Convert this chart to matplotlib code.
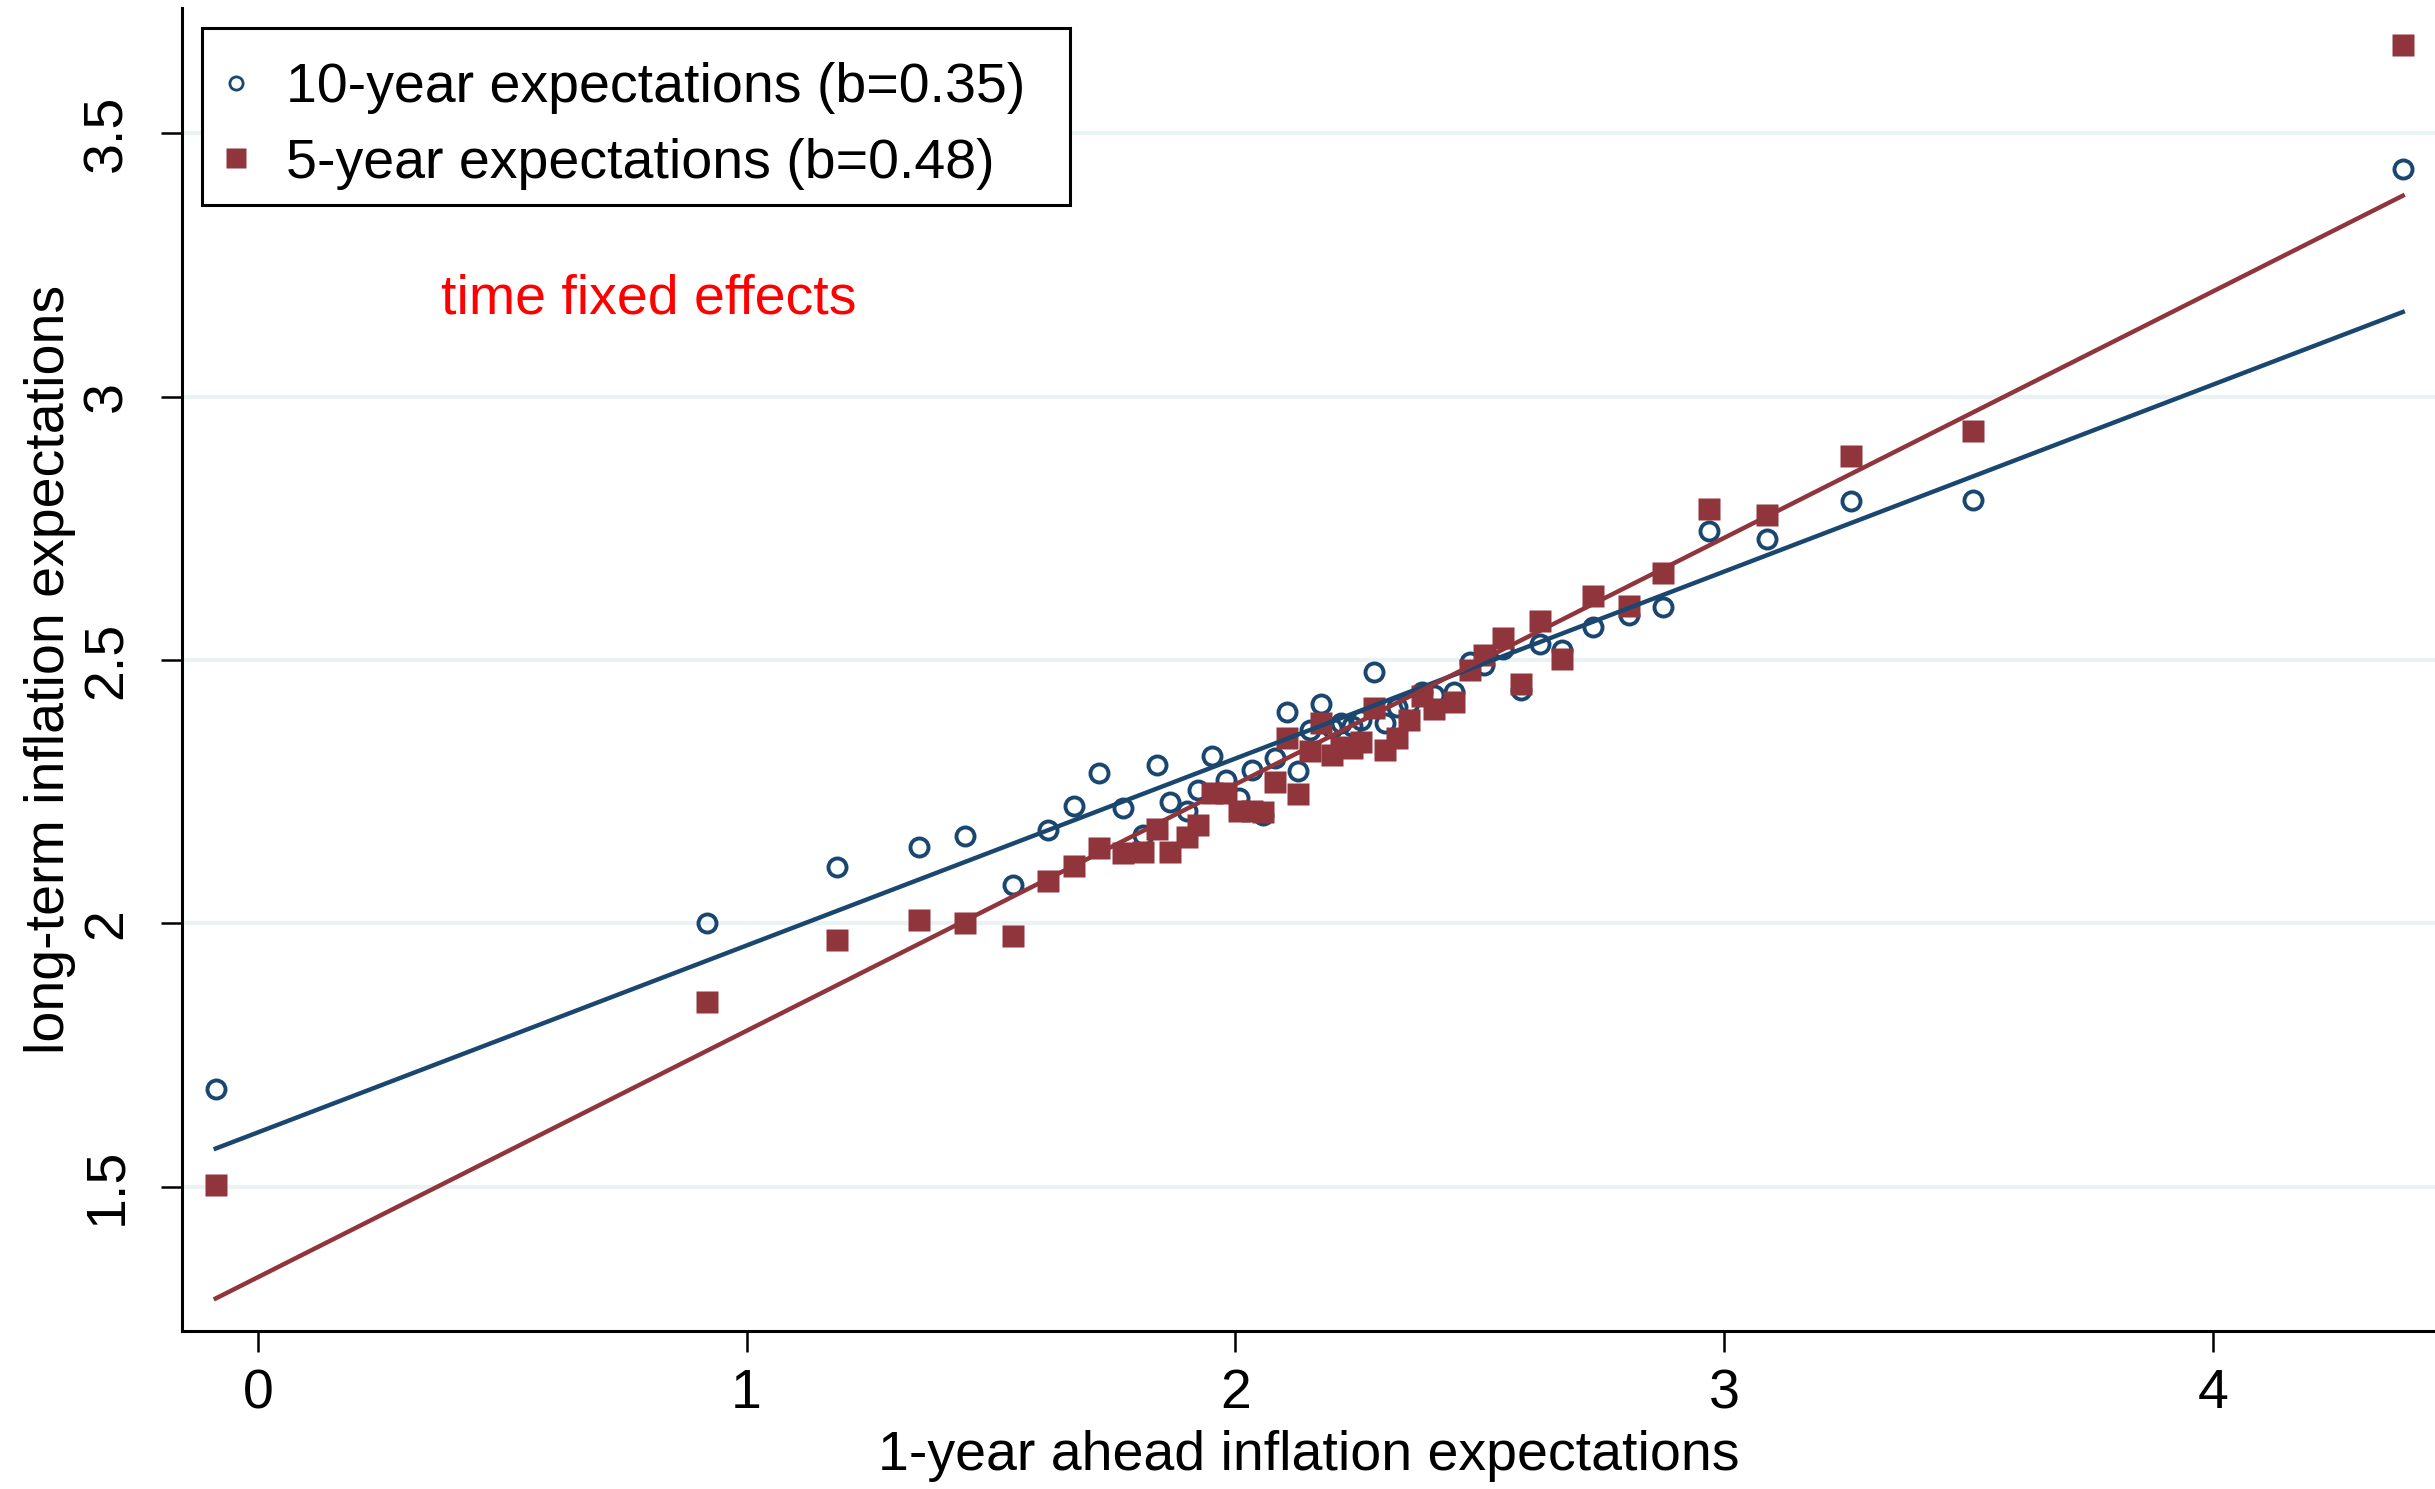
import numpy as np
import matplotlib
matplotlib.use("Agg")
import matplotlib.pyplot as plt
from matplotlib.patches import Rectangle

# Binned means: 1-year ahead expectations (x) vs long-term expectations
x_bins = [-0.086, 0.918, 1.185, 1.353, 1.446, 1.544, 1.617, 1.669, 1.721, 1.769,
          1.810, 1.840, 1.867, 1.900, 1.924, 1.953, 1.980, 2.007, 2.034, 2.057,
          2.080, 2.106, 2.128, 2.153, 2.176, 2.198, 2.216, 2.239, 2.256, 2.283,
          2.305, 2.331, 2.356, 2.381, 2.407, 2.447, 2.480, 2.509, 2.548, 2.585,
          2.623, 2.668, 2.731, 2.805, 2.875, 2.969, 3.088, 3.260, 3.508, 4.388]

y_10yr = [1.686, 2.001, 2.107, 2.145, 2.166, 2.072, 2.178, 2.223, 2.286, 2.219,
          2.168, 2.301, 2.231, 2.214, 2.253, 2.318, 2.273, 2.238, 2.292, 2.205,
          2.314, 2.402, 2.289, 2.367, 2.416, 2.370, 2.380, 2.375, 2.386, 2.477,
          2.380, 2.410, 2.418, 2.440, 2.434, 2.440, 2.497, 2.490, 2.520, 2.443,
          2.530, 2.519, 2.562, 2.585, 2.600, 2.745, 2.730, 2.801, 2.804, 3.432]

y_5yr = [1.503, 1.850, 1.968, 2.007, 2.001, 1.976, 2.080, 2.109, 2.143, 2.134,
         2.135, 2.179, 2.135, 2.164, 2.187, 2.248, 2.248, 2.213, 2.213, 2.211,
         2.268, 2.352, 2.245, 2.327, 2.380, 2.319, 2.334, 2.333, 2.345, 2.408,
         2.330, 2.352, 2.386, 2.431, 2.407, 2.421, 2.481, 2.510, 2.541, 2.455,
         2.575, 2.501, 2.621, 2.602, 2.666, 2.787, 2.775, 2.888, 2.934, 3.668]

# Fitted lines (intercept, slope)
fit_10yr = (1.603, 0.355)
fit_5yr = (1.328, 0.468)

labels = ["10-year expectations (b=0.35)", "5-year expectations (b=0.48)"]
navy = "#1a476f"
maroon = "#90353b"

plt.rcParams["font.family"] = ["Liberation Sans", "DejaVu Sans"]

fig = plt.figure(figsize=(24.35, 14.89), dpi=100)
ax = fig.add_axes([182 / 2435, 1 - 1331 / 1489, 1 - 182 / 2435, (1331 - 8) / 1489])

ax.set_xlim(-0.155, 4.454)
ax.set_ylim(1.226, 3.738)
ax.set_yticks([1.5, 2, 2.5, 3, 3.5])
ax.set_yticklabels(["1.5", "2", "2.5", "3", "3.5"])
ax.set_xticks([0, 1, 2, 3, 4])
ax.yaxis.grid(True, color="#eaf2f3", linewidth=3)
ax.set_axisbelow(True)

ax.plot(x_bins, y_10yr, "o", ms=13, mfc="none", mec=navy, mew=2.8,
        label=labels[0], zorder=3)
ax.plot(x_bins, y_5yr, "s", ms=16.5, mfc=maroon, mec="none",
        label=labels[1], zorder=4)

xf = np.array([min(x_bins), max(x_bins)])
ax.plot(xf, fit_10yr[0] + fit_10yr[1] * xf, color=navy, lw=3.2, zorder=5)
ax.plot(xf, fit_5yr[0] + fit_5yr[1] * xf, color=maroon, lw=3.2, zorder=6)

for side in ["top", "right"]:
    ax.spines[side].set_visible(False)
for side in ["left", "bottom"]:
    ax.spines[side].set_linewidth(2.2)

ax.tick_params(axis="both", direction="out", length=15, width=1.8,
               labelsize=40, colors="black")
ax.tick_params(axis="x", pad=12)
ax.tick_params(axis="y", pad=20, labelrotation=90)
for t in ax.get_yticklabels():
    t.set_va("center")

ax.set_xlabel("1-year ahead inflation expectations", fontsize=40, labelpad=7)
ax.set_ylabel("long-term inflation expectations", fontsize=40, labelpad=4)

ax.text(0.8, 3.185, "time fixed effects", color="red", fontsize=40,
        ha="center", va="center")

# legend box drawn separately so the entries can sit lower inside it
aw, ah = 2253, 1323
box = Rectangle((20 / aw, 1 - 197 / ah), 868 / aw, 177 / ah,
                transform=ax.transAxes, facecolor="white", edgecolor="black",
                linewidth=2.2, zorder=7)
ax.add_patch(box)
leg = ax.legend(loc="upper left",
                bbox_to_anchor=(12 / aw, 1 - 29 / ah),
                borderaxespad=0, fontsize=40, frameon=False,
                borderpad=0.45, labelspacing=0.43, handlelength=0.6,
                handletextpad=0.6)
leg.set_zorder(8)
leg.legend_handles[0].set_markersize(9.5)
leg.legend_handles[0].set_markeredgewidth(2.0)
leg.legend_handles[1].set_markersize(14)

fig.savefig("out.png", dpi=100)
